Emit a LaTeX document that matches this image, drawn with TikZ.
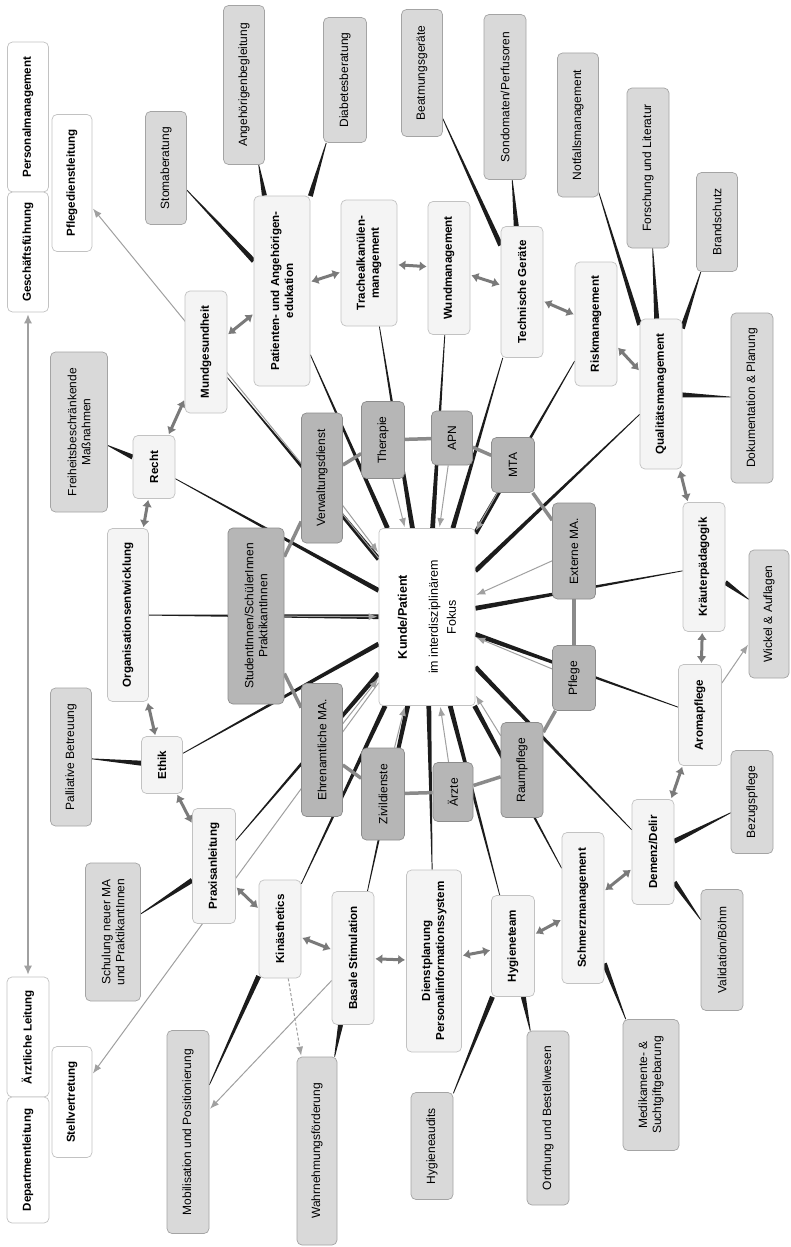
\documentclass[tikz,border=0pt]{standalone}
\usepackage{fontspec}
\setmainfont{Liberation Sans}
\usetikzlibrary{arrows.meta,calc}
\pgfdeclarelayer{paper}
\pgfdeclarelayer{links}
\pgfsetlayers{paper,links,main}
\definecolor{topicfill}{HTML}{F4F4F4}
\definecolor{topicdraw}{HTML}{C2C2C2}
\definecolor{leaffill}{HTML}{D9D9D9}
\definecolor{leafdraw}{HTML}{A4A4A4}
\definecolor{innerfill}{HTML}{B6B6B6}
\definecolor{innerdraw}{HTML}{8C8C8C}
\definecolor{wedgecol}{HTML}{1C1C1C}
\definecolor{dblcol}{HTML}{7A7A7A}
\definecolor{ringcol}{HTML}{8A8A8A}
\definecolor{arrcol}{HTML}{A0A0A0}
\newcommand{\taperline}[3][2.5pt]{%
  \path (#2) -- coordinate[pos=0] (tpS) coordinate[pos=1] (tpE) (#3);
  \fill[wedgecol] ($(tpS)!0.4pt!90:(tpE)$) -- ($(tpE)!#1!-90:(tpS)$) -- ($(tpE)!#1!90:(tpS)$) -- ($(tpS)!0.4pt!-90:(tpE)$) -- cycle;%
}
\begin{document}
\begin{tikzpicture}[x=1pt,y=-1pt,
  nbase/.style={rotate=90, align=center, rounded corners=5pt, line width=0.7pt, inner sep=2pt, font=\fontsize{12}{14}\selectfont},
  sz/.style 2 args={minimum height=#1pt, minimum width=#2pt},
  topic/.style={nbase, fill=topicfill, draw=topicdraw, font=\fontsize{11.6}{14}\selectfont\bfseries},
  mgmt/.style={topic, fill=white},
  leaf/.style={nbase, fill=leaffill, draw=leafdraw},
  innerbox/.style={nbase, fill=innerfill, draw=innerdraw},
  hubbox/.style={nbase, fill=white, draw=topicdraw, rounded corners=4pt, font=\fontsize{12.5}{18}\selectfont},
  dbl/.style={draw=dblcol, line width=3pt, {Latex[length=7pt,width=10pt]}-{Latex[length=7pt,width=10pt]}, shorten <=1pt, shorten >=1pt},
  ringln/.style={draw=ringcol, line width=3.5pt},
  garr/.style={draw=arrcol, line width=1pt, -{Latex[length=9pt,width=7pt]}, shorten >=1pt},
  vdbl/.style={draw=arrcol, line width=1.3pt, {Latex[length=9pt,width=8pt]}-{Latex[length=9pt,width=8pt]}, shorten <=2pt, shorten >=2pt}
]
\begin{pgfonlayer}{paper}
\fill[white] (0,0) rectangle (790,1247);
\end{pgfonlayer}
\useasboundingbox (0,0) rectangle (790,1247);

% management
\node[mgmt, sz={41}{150}] (pm) at (28,117) {Personalmanagement};
\node[mgmt, sz={41}{120}] (gf) at (28,252) {Geschäftsführung};
\node[mgmt, sz={40}{137}] (pdl) at (72,183) {Pflegedienstleitung};
\node[mgmt, sz={42}{120}] (al) at (28,1037) {Ärztliche Leitung};
\node[mgmt, sz={42}{126}] (dl) at (28,1160) {Departmentleitung};
\node[mgmt, sz={40}{111}] (sv) at (72,1102) {Stellvertretung};

% leaves
\node[leaf, sz={41}{113}] (stoma) at (166,168) {Stomaberatung};
\node[leaf, sz={41}{159}] (angeh) at (244,85) {Angehörigenbegleitung};
\node[leaf, sz={43}{125}] (diab) at (345,80) {Diabetesberatung};
\node[leaf, sz={41}{127}] (beat) at (422,73) {Beatmungsgeräte};
\node[leaf, sz={42}{165}] (sond) at (505,97) {Sondomaten/Perfusoren};
\node[leaf, sz={41}{144}] (notf) at (578,125) {Notfallsmanagement};
\node[leaf, sz={42}{160}] (forsch) at (648,168) {Forschung und Literatur};
\node[leaf, sz={41}{99}] (brand) at (717,222) {Brandschutz};
\node[leaf, sz={42}{170}] (doku) at (752,398) {Dokumentation \& Planung};
\node[leaf, sz={40}{128}] (wickel) at (769,614) {Wickel \& Auflagen};
\node[leaf, sz={42}{103}] (bezug) at (752,802) {Bezugspflege};
\node[leaf, sz={42}{121}] (valid) at (722,950) {Validation/Böhm};
\node[leaf, sz={56}{131}] (medik) at (651,1085) {Medikamente- \&\\Suchtgiftgebarung};
\node[leaf, sz={42}{174}] (ordn) at (548,1118) {Ordnung und Bestellwesen};
\node[leaf, sz={42}{107}] (hygaud) at (432,1146) {Hygieneaudits};
\node[leaf, sz={40}{188}] (wahrn) at (317,1151) {Wahrnehmungsförderung};
\node[leaf, sz={42}{203}] (mobil) at (188,1132) {Mobilisation und Positionierung};
\node[leaf, sz={55}{138}] (schul) at (113,932) {Schulung neuer MA\\und PraktikantInnen};
\node[leaf, sz={41}{138}] (pall) at (71,757) {Palliative Betreuung};
\node[leaf, sz={57}{160}] (freih) at (79,432) {Freiheitsbeschränkende\\Maßnahmen};

% topics
\node[topic, sz={42}{122}] (mund) at (206,352) {Mundgesundheit};
\node[topic, sz={56}{190}] (pat) at (282,291) {Patienten- und Angehörigen-\\edukation};
\node[topic, sz={56}{126}] (trach) at (369,263) {Trachealkanülen-\\management};
\node[topic, sz={42}{133}] (wund) at (449,268) {Wundmanagement};
\node[topic, sz={42}{131}] (tech) at (522,292) {Technische Geräte};
\node[topic, sz={42}{124}] (risk) at (596,324) {Riskmanagement};
\node[topic, sz={42}{150}] (qual) at (661,394) {Qualitätsmanagement};
\node[topic, sz={42}{129}] (kraut) at (704,567) {Kräuterpädagogik};
\node[topic, sz={43}{101}] (aroma) at (700,715) {Aromapflege};
\node[topic, sz={42}{105}] (dem) at (653,852) {Demenz/Delir};
\node[topic, sz={42}{151}] (schm) at (583,908) {Schmerzmanagement};
\node[topic, sz={43}{101}] (hyg) at (513,946) {Hygieneteam};
\node[topic, sz={55}{182}] (dienst) at (434,961) {Dienstplanung\\Personalinformationssystem};
\node[topic, sz={42}{133}] (basal) at (353,958) {Basale Stimulation};
\node[topic, sz={42}{98}] (kin) at (280,929) {Kinästhetics};
\node[topic, sz={43}{115}] (prax) at (214,866) {Praxisanleitung};
\node[topic, sz={41}{57}] (ethik) at (162,765) {Ethik};
\node[topic, sz={41}{173}] (org) at (128,615) {Organisationsentwicklung};
\node[topic, sz={42}{63}] (recht) at (154,467) {Recht};

% inner ring
\node[innerbox, sz={41}{130}] (verw) at (322,478) {Verwaltungsdienst};
\node[innerbox, sz={43}{77}] (ther) at (383,440) {Therapie};
\node[innerbox, sz={41}{54}] (apn) at (452,438) {APN};
\node[innerbox, sz={43}{55}] (mta) at (513,465) {MTA};
\node[innerbox, sz={43}{96}] (ext) at (574,551) {Externe MA.};
\node[innerbox, sz={43}{65}] (pfl) at (574,678) {Pflege};
\node[innerbox, sz={42}{95}] (raum) at (522,770) {Raumpflege};
\node[innerbox, sz={40}{59}] (aerz) at (453,792) {Ärzte};
\node[innerbox, sz={43}{92}] (ziv) at (383,794) {Zivildienste};
\node[innerbox, sz={41}{133}] (ehren) at (322,750) {Ehrenamtliche MA.};
\node[innerbox, sz={56}{176}] (stud) at (256,616) {StudentInnen/SchülerInnen\\PraktikantInnen};

% hub
\node[hubbox, sz={96}{177}] (kunde) at (427,617) {\textbf{Kunde/Patient}\\[13pt]im interdisziplinärem\\Fokus};

\begin{pgfonlayer}{links}
% topic -> hub wedges
\foreach \t in {mund,pat,trach,wund,tech,risk,qual,kraut,aroma,dem,schm,hyg,dienst,basal,kin,prax,ethik,org,recht}{
  \taperline[2.4pt]{\t}{kunde}
}
% leaf -> topic wedges
\taperline{stoma}{pat}
\taperline{angeh}{pat}
\taperline{diab}{pat}
\taperline{beat}{tech}
\taperline{sond}{tech}
\taperline{notf}{qual}
\taperline{forsch}{qual}
\taperline{brand}{qual}
\taperline{doku}{qual}
\taperline{wickel}{kraut}
\taperline{bezug}{dem}
\taperline{valid}{dem}
\taperline{medik}{schm}
\taperline{ordn}{hyg}
\taperline{hygaud}{hyg}
\taperline{wahrn}{basal}
\taperline{mobil}{kin}
\taperline{schul}{prax}
\taperline{pall}{ethik}
\taperline{freih}{recht}
% inner ring
\draw[ringln] (verw) -- (ther);
\draw[ringln] (ther) -- (apn);
\draw[ringln] (apn) -- (mta);
\draw[ringln] (mta) -- (ext);
\draw[ringln] (ext) -- (pfl);
\draw[ringln] (pfl) -- (raum);
\draw[ringln] (raum) -- (aerz);
\draw[ringln] (aerz) -- (ziv);
\draw[ringln] (ziv) -- (ehren);
\draw[ringln] (ehren) -- (stud);
\draw[ringln] (stud) -- (verw);
% inner -> hub arrows
\foreach \i in {verw,ther,apn,mta,ext,pfl,raum,aerz,ziv,ehren,stud}{
  \draw[garr] (\i) -- (kunde);
}
% other grey arrows
\draw[garr] (kunde) -- (pdl);
\draw[garr] (kunde) -- (sv);
\draw[garr] (basal) -- (mobil);
\draw[garr, densely dashed] (kin) -- (wahrn);
\draw[garr] (aroma) -- (wickel);
\draw[vdbl] (gf) -- (al);
% topic ring double arrows
\draw[dbl] (mund) -- (pat);
\draw[dbl] (pat) -- (trach);
\draw[dbl] (trach) -- (wund);
\draw[dbl] (wund) -- (tech);
\draw[dbl] (tech) -- (risk);
\draw[dbl] (risk) -- (qual);
\draw[dbl] (qual) -- (kraut);
\draw[dbl] (kraut) -- (aroma);
\draw[dbl] (aroma) -- (dem);
\draw[dbl] (dem) -- (schm);
\draw[dbl] (schm) -- (hyg);
\draw[dbl] (hyg) -- (dienst);
\draw[dbl] (dienst) -- (basal);
\draw[dbl] (basal) -- (kin);
\draw[dbl] (kin) -- (prax);
\draw[dbl] (prax) -- (ethik);
\draw[dbl] (ethik) -- (org);
\draw[dbl] (org) -- (recht);
\draw[dbl] (recht) -- (mund);
\end{pgfonlayer}
\end{tikzpicture}
\end{document}
